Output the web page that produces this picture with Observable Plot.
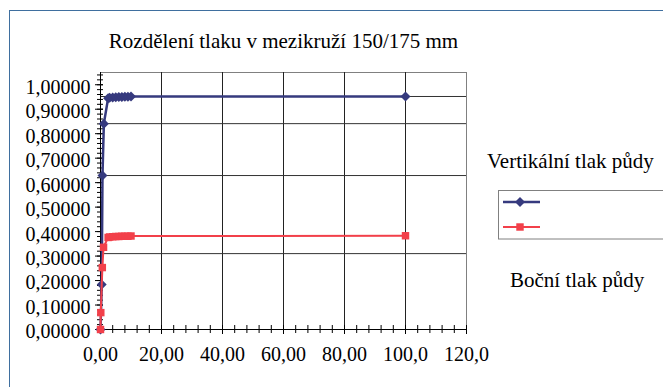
<!DOCTYPE html>
<html>
<head>
<meta charset="utf-8">
<script src="https://cdn.jsdelivr.net/npm/d3@7"></script>
<script src="https://cdn.jsdelivr.net/npm/@observablehq/plot@0.6"></script>
</head>
<body style="margin:0;font-size:20px">
<div id="chart"></div>
<svg id="overlay" width="663" height="387" style="position:absolute;left:0;top:0">
  <rect x="9.5" y="10.5" width="700" height="420" fill="none" stroke="#3f6f9f" stroke-width="1"></rect>
  <text id="t0" font-family="Liberation Serif" font-size="20" text-anchor="middle" transform="translate(283.5,48) scale(1.05)"></text>
  <text id="t1" font-family="Liberation Serif" font-size="20" transform="translate(487,167.5) scale(1.05)"></text>
  <text id="t2" font-family="Liberation Serif" font-size="20" transform="translate(510,287) scale(1.05)"></text>
  <g id="leg"></g>
</svg>
<script>
// ---- data ----
const title = "Rozdělení tlaku v mezikruží  150/175 mm";
const seriesNames = ["Vertikální tlak půdy", "Boční tlak půdy"];

const blueX = [0, 0.4, 0.65, 1.1, 2.5, 3, 4, 5, 6, 7, 8, 9, 10, 100];
const blueY = [0, 0.184, 0.629, 0.841, 0.945, 0.947, 0.948, 0.949, 0.950, 0.950, 0.951, 0.951, 0.952, 0.952];

const redX = [0, 0.1, 0.6, 1.0, 2.5, 3, 4, 5, 6, 7, 8, 9, 10, 100];
const redY = [0, 0.069, 0.253, 0.336, 0.376, 0.378, 0.379, 0.380, 0.380, 0.381, 0.381, 0.381, 0.382, 0.383];

const xMajorTicks = [0, 20, 40, 60, 80, 100, 120];
const xMinorTicks = d3.range(0, 121, 4);
const yMajorTicks = [0, 0.1, 0.2, 0.3, 0.4, 0.5, 0.6, 0.7, 0.8, 0.9, 1.0];
const yMinorTicks = d3.range(0, 1.045, 0.02);
const vGrid = [20, 40, 60, 80, 100];
const hGrid = [0.952, 0.841, 0.629, 0.310];

// ---- styling ----
const W = 663, H = 387;
const mL = 100, mR = 197, mT = 72, mB = 58;
const fw = W - mL - mR, fh = H - mT - mB;
const blue = "#363a7e", red = "#f2404a";
const font = "Liberation Serif";
const fs = 20;

document.getElementById("t0").textContent = title;
document.getElementById("t1").textContent = seriesNames[0];
document.getElementById("t2").textContent = seriesNames[1];

const blueData = blueX.map((x, i) => ({x, y: blueY[i]}));
const redData = redX.map((x, i) => ({x, y: redY[i]}));

const fmtY = d => d.toFixed(5).replace(".", ",");
const fmtX = d => (d < 100 ? d.toFixed(2) : d.toFixed(1)).replace(".", ",");

const plot = Plot.plot({
  width: W, height: H,
  marginLeft: mL, marginRight: mR, marginTop: mT, marginBottom: mB,
  x: {domain: [0, 120], axis: null, label: null},
  y: {domain: [0, 1.05], axis: null, label: null},
  style: {fontFamily: font, fontSize: fs + "px"},
  marks: [
    Plot.frame({stroke: "#808080", fill: "#fff"}),
    Plot.ruleX(vGrid, {stroke: "#222", strokeWidth: 1}),
    Plot.ruleY(hGrid, {stroke: "#333", strokeWidth: 1}),
    Plot.tickY(yMinorTicks, {y: d => d, insetLeft: -3, insetRight: fw - 3, stroke: "#000"}),
    Plot.tickY(yMajorTicks, {y: d => d, insetLeft: -5, insetRight: fw - 3, stroke: "#000"}),
    Plot.tickX(xMinorTicks, {x: d => d, insetTop: fh - 4, insetBottom: -4, stroke: "#000"}),
    Plot.tickX(xMajorTicks, {x: d => d, insetTop: fh - 4, insetBottom: -5, stroke: "#000"}),
    Plot.ruleX([0], {stroke: "#000"}),
    Plot.ruleY([0], {stroke: "#000"}),
    Plot.axisY(yMajorTicks, {tickSize: 0, tickPadding: 10, tickFormat: fmtY, dy: 2.5, fontSize: fs, fontFamily: font, fill: "#000", label: null}),
    Plot.axisX(xMajorTicks, {tickSize: 0, tickPadding: 17, tickFormat: fmtX, fontSize: fs, fontFamily: font, fill: "#000", label: null}),
    Plot.line(blueData, {x: "x", y: "y", stroke: blue, strokeWidth: 2.5}),
    Plot.dot(blueData, {x: "x", y: "y", symbol: "diamond2", r: 4.5, fill: blue, stroke: "none"}),
    Plot.line(redData, {x: "x", y: "y", stroke: red, strokeWidth: 2}),
    Plot.dot(redData, {x: "x", y: "y", symbol: "square", r: 4.2, fill: red, stroke: "none"})
  ]
});
document.getElementById("chart").appendChild(plot);

// ---- legend box ----
const lg = d3.select("#leg");
lg.append("rect").attr("x", 498.5).attr("y", 190.5).attr("width", 200).attr("height", 48.5)
  .attr("fill", "#fff").attr("stroke", "#808080");
lg.append("line").attr("x1", 503).attr("x2", 540).attr("y1", 202).attr("y2", 202)
  .attr("stroke", blue).attr("stroke-width", 2.5);
lg.append("path").attr("d", d3.symbol(d3.symbolDiamond2, 4.5 * 4.5 * Math.PI)())
  .attr("transform", "translate(520,202)").attr("fill", blue);
lg.append("line").attr("x1", 503).attr("x2", 540).attr("y1", 227).attr("y2", 227)
  .attr("stroke", red).attr("stroke-width", 2);
lg.append("path").attr("d", d3.symbol(d3.symbolSquare, 4.2 * 4.2 * Math.PI)())
  .attr("transform", "translate(520,227)").attr("fill", red);
</script>
</body>
</html>
